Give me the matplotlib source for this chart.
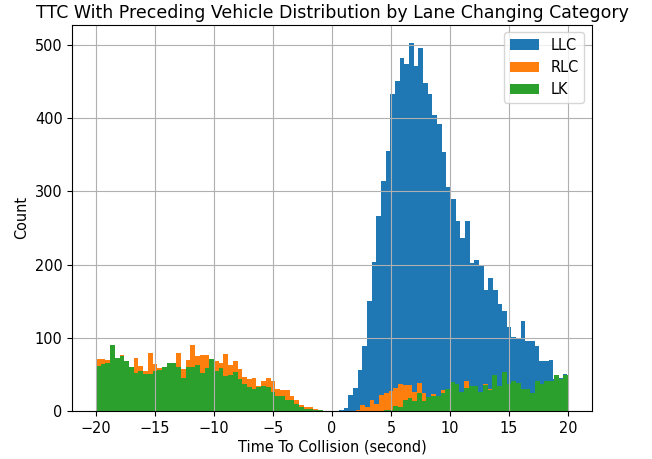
import numpy as np
import matplotlib
matplotlib.use("Agg")
import matplotlib.pyplot as plt

# ---- data (counts) ----
categories = ["LLC", "RLC", "LK"]

# LLC bins (own range), 50 bins
llc_range = (0.2, 19.95)
llc_nbins = 50
llc_counts = [0, 1, 4, 22, 32, 56, 89, 150, 203, 266,
              314, 355, 433, 451, 482, 474, 503, 471, 496, 448,
              433, 404, 392, 354, 306, 290, 260, 236, 260, 202,
              206, 198, 165, 182, 165, 146, 137, 115, 101, 100,
              123, 96, 96, 89, 68, 68, 70, 44, 45, 50]

# RLC / LK bins: -20..20, 100 bins
rl_range = (-20.0, 20.0)
rl_nbins = 100
rlc_counts = [71, 71, 70, 68, 66, 76, 62, 58, 72, 61,
              55, 79, 64, 59, 58, 66, 66, 79, 57, 70,
              90, 75, 77, 77, 68, 68, 66, 78, 63, 68,
              57, 47, 44, 45, 34, 41, 45, 41, 30, 29,
              29, 20, 15, 8, 6, 5, 3, 2, 0, 0,
              0, 0, 0, 0, 0, 2, 8, 5, 15, 10,
              22, 24, 27, 31, 37, 35, 36, 26, 38, 25,
              17, 23, 18, 29, 25, 25, 22, 20, 41, 22,
              20, 18, 37, 30, 15, 15, 12, 12, 10, 10,
              8, 8, 6, 6, 5, 5, 4, 3, 3, 2]
lk_counts = [61, 64, 65, 90, 72, 75, 68, 60, 52, 55,
             50, 50, 55, 56, 60, 65, 65, 60, 45, 60,
             60, 63, 52, 59, 71, 54, 59, 48, 49, 53,
             44, 37, 33, 30, 33, 34, 33, 26, 20, 20,
             15, 15, 9, 5, 3, 3, 1, 1, 0, 0,
             0, 0, 0, 0, 0, 0, 0, 0, 0, 0,
             0, 1, 2, 7, 5, 15, 18, 14, 25, 14,
             19, 20, 20, 25, 30, 40, 37, 26, 31, 34,
             34, 26, 35, 29, 49, 34, 53, 37, 41, 38,
             30, 30, 25, 41, 37, 41, 41, 49, 44, 49]

title = "TTC With Preceding Vehicle Distribution by Lane Changing Category"
xlabel = "Time To Collision (second)"
ylabel = "Count"

# ---- plotting ----
plt.rcParams["font.size"] = 10.45

fig = plt.figure(figsize=(6.52, 4.59), dpi=100)
ax = fig.add_axes([0.111, 0.1046, 0.7964, 0.842])

llc_edges = np.linspace(llc_range[0], llc_range[1], llc_nbins + 1)
rl_edges = np.linspace(rl_range[0], rl_range[1], rl_nbins + 1)

series = [
    (llc_edges, llc_counts, categories[0]),
    (rl_edges, rlc_counts, categories[1]),
    (rl_edges, lk_counts, categories[2]),
]
for edges, counts, name in series:
    centers = (edges[:-1] + edges[1:]) / 2
    ax.hist(centers, bins=edges, weights=counts, label=name)

ax.grid(True)
ax.set_title(title, fontsize=12.54, pad=5)
ax.set_xlabel(xlabel, labelpad=2.5)
ax.set_ylabel(ylabel)
ax.set_xlim(-22, 22)
ax.legend(loc="upper right")

fig.savefig("out.png", dpi=100)
